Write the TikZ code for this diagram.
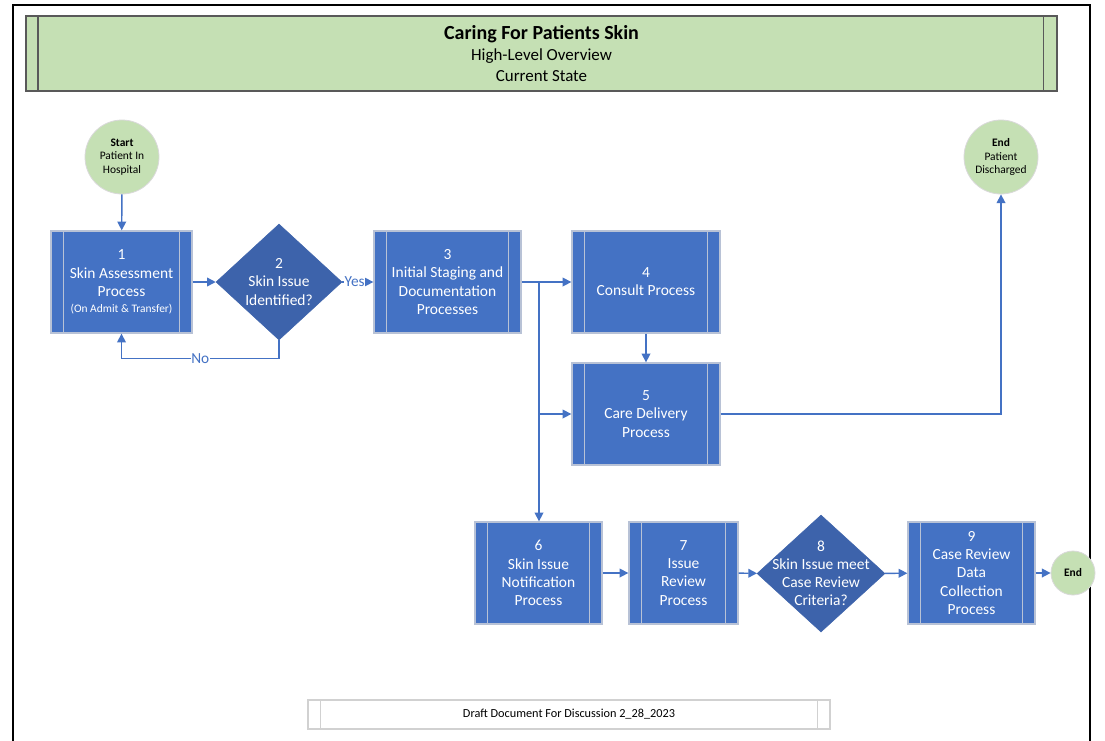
\documentclass[tikz,border=0pt]{standalone}
\usepackage{fontspec}
\setmainfont{Carlito}
\usetikzlibrary{arrows.meta,shapes.geometric,calc}
\definecolor{boxblue}{HTML}{4472C4}
\definecolor{diablue}{HTML}{3D63AB}
\definecolor{boxedge}{HTML}{B8C2D6}
\definecolor{softgreen}{HTML}{C5E0B4}
\definecolor{titleedge}{HTML}{595959}
\tikzset{
  x=0.75pt, y=-0.75pt,
  procbox/.style={rectangle, fill=boxblue, draw=boxedge, line width=1pt, text=white,
    align=center, inner sep=0pt, font=\fontsize{11.6}{13.6}\selectfont,
    path picture={
      \draw[boxedge, line width=1pt]
        ([xshift=9.5pt]path picture bounding box.north west) -- ([xshift=9.5pt]path picture bounding box.south west)
        ([xshift=-9.5pt]path picture bounding box.north east) -- ([xshift=-9.5pt]path picture bounding box.south east);
    }},
  decision/.style={diamond, fill=diablue, draw=diablue, inner sep=0pt},
  dectext/.style={text=white, align=center, font=\fontsize{11.6}{13.6}\selectfont},
  terminal/.style={circle, fill=softgreen, draw=black!15, line width=0.6pt, inner sep=0pt,
    align=center, font=\fontsize{8.6}{10.2}\selectfont},
  arr/.style={draw=boxblue, line width=1.1pt, -{Triangle[length=6.5pt,width=6.5pt]}},
  lbl/.style={fill=white, inner sep=0.5pt, text=boxblue, font=\fontsize{11.5}{12}\selectfont},
}
\begin{document}
\begin{tikzpicture}
\useasboundingbox (0,0) rectangle (1105,740);
\fill[white] (0,0) rectangle (1105,740);
% outer frame
\draw[black, line width=1.4pt] (13,760) -- (13,5) -- (1090,5) -- (1090,760);

% title
\node[rectangle, fill=softgreen, draw=titleedge, line width=1pt, minimum width={1031*0.75pt}, minimum height={75*0.75pt},
  path picture={\draw[titleedge, line width=0.8pt]
    ([xshift=9pt]path picture bounding box.north west) -- ([xshift=9pt]path picture bounding box.south west)
    ([xshift=-10pt]path picture bounding box.north east) -- ([xshift=-10pt]path picture bounding box.south east);}]
  (title) at (541.5,53.5) {};
\node[align=center, font=\fontsize{12.7}{15.75}\selectfont] (titletext) at (541.5,54)
  {{\fontsize{15}{15.75}\selectfont\bfseries Caring For Patients Skin}\\High-Level Overview\\Current State};

% terminals
\node[terminal, minimum size={74*0.75pt}] (start) at (122,157) {\textbf{Start}\\Patient In\\Hospital};
\node[terminal, minimum size={74*0.75pt}] (endtop) at (1001,157) {\textbf{End}\\Patient\\Discharged};
\node[terminal, minimum size={44*0.75pt}] (endb) at (1073,573) {\textbf{End}};

% process boxes
\node[procbox, minimum width={141*0.75pt}, minimum height={102*0.75pt}] (b1) at (121.5,282)
  {1\\Skin Assessment\\Process\\[-1.5pt]{\fontsize{8.6}{12}\selectfont (On Admit \& Transfer)}};
\node[procbox, minimum width={147*0.75pt}, minimum height={102*0.75pt}] (b3) at (447.5,282)
  {3\\Initial Staging and\\Documentation\\Processes};
\node[procbox, minimum width={148*0.75pt}, minimum height={102*0.75pt}] (b4) at (646,282)
  {4\\Consult Process};
\node[procbox, minimum width={148*0.75pt}, minimum height={102*0.75pt}] (b5) at (646,414)
  {5\\Care Delivery\\Process};
\node[procbox, minimum width={127*0.75pt}, minimum height={102*0.75pt}] (b6) at (538.5,573)
  {6\\Skin Issue\\Notification\\Process};
\node[procbox, minimum width={109*0.75pt}, minimum height={102*0.75pt}] (b7) at (683.5,573)
  {7\\Issue\\Review\\Process};
\node[procbox, minimum width={127*0.75pt}, minimum height={102*0.75pt}] (b9) at (971.5,573)
  {9\\Case Review\\Data\\Collection\\Process};

% decisions
\node[decision, minimum width={126*0.75pt}, minimum height={116*0.75pt}] (d2) at (279,282) {};
\node[dectext] (d2t) at (279,282) {2\\Skin Issue\\Identified?};
\node[decision, minimum width={128*0.75pt}, minimum height={117*0.75pt}] (d8) at (821,573.5) {};
\node[dectext] (d8t) at (821,573.5) {8\\Skin Issue meet\\Case Review\\Criteria?};

% footer
\node[rectangle, draw=black!18, line width=0.8pt, minimum width={522*0.75pt}, minimum height={29*0.75pt},
  font=\fontsize{9.2}{10}\selectfont,
  path picture={\draw[black!18, line width=0.8pt]
    ([xshift=9.5pt]path picture bounding box.north west) -- ([xshift=9.5pt]path picture bounding box.south west)
    ([xshift=-9.5pt]path picture bounding box.north east) -- ([xshift=-9.5pt]path picture bounding box.south east);}]
  (footer) at (569,714.5) {Draft Document For Discussion 2\_28\_2023};

% connectors
\draw[arr] (start) -- (b1);
\draw[arr] (b1) -- (d2);
\draw[arr] (d2) -- node[lbl, pos=0.4] {Yes} (b3);
\draw[arr] (d2.south) -- ++(0,18) -| node[lbl, pos=0.25] {No} (b1.south);
\draw[arr] (b3) -- (b4);
\coordinate (br) at (539,282);
\draw[arr] (br) -- (br |- b6.north);
\draw[arr] (br |- b5.west) -- (b5.west);
\draw[arr] (b4) -- (b5);
\draw[arr] (b5.east) -| (endtop.south);
\draw[arr] (b6) -- (b7);
\draw[arr] (b7) -- (d8);
\draw[arr] (d8) -- (b9);
\draw[arr] (b9) -- (endb);
\end{tikzpicture}
\end{document}
